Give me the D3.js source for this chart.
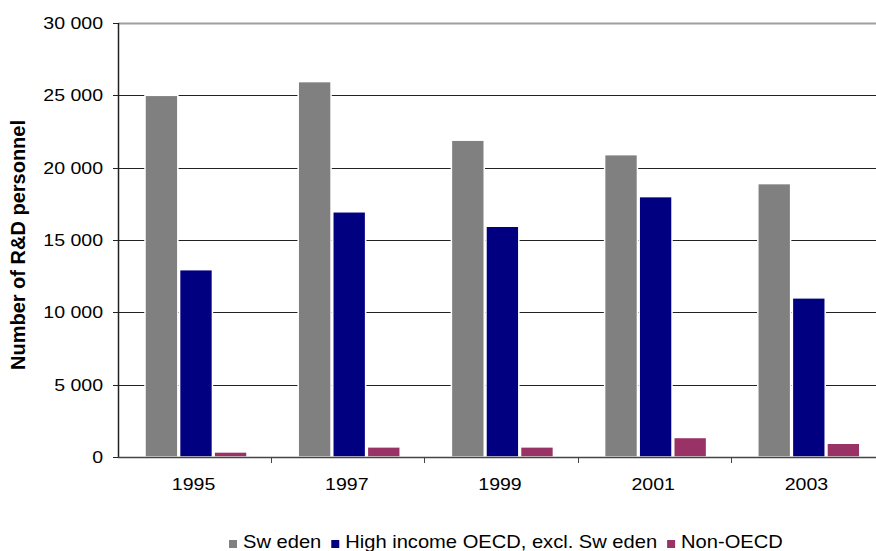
<!DOCTYPE html>
<html>
<head>
<meta charset="utf-8">
<script src="https://cdn.jsdelivr.net/npm/d3@7"></script>
<style>
  html, body { margin: 0; padding: 0; background: #fff; }
  svg { display: block; font-family: "Liberation Sans", Arial, sans-serif; }
</style>
</head>
<body>
<div class="container"></div>
<script>
// data
const years = ["1995", "1997", "1999", "2001", "2003"];
const seriesNames = ["Sw eden", "High income OECD, excl. Sw eden", "Non-OECD"];
const sweden = [25000, 25950, 21900, 20900, 18900];
const highIncome = [12950, 16950, 15950, 18000, 11000];
const nonOecd = [350, 700, 700, 1350, 950];
const yTicks = [0, 5000, 10000, 15000, 20000, 25000, 30000];

const colors = ["#808080", "#000080", "#993366"];
const values = [sweden, highIncome, nonOecd];

const width = 876, height = 551;
const plot = { left: 118, top: 23, bottom: 457, right: 884 };

const svg = d3.select(".container")
  .append("svg")
  .attr("width", width)
  .attr("height", height);

const y = d3.scaleLinear().domain([0, 30000]).range([plot.bottom, plot.top]);
const x0 = d3.scaleBand().domain(years).range([plot.left, plot.right]).padding(0);
const x1 = d3.scaleBand().domain(d3.range(3)).range([27, 129]).paddingInner(0.05);

const fmt = d3.formatLocale({ decimal: ".", thousands: " ", grouping: [3], currency: ["", ""] }).format(",");

// gridlines
svg.append("g")
  .selectAll("line")
  .data(yTicks.filter(d => d > 0))
  .join("line")
  .attr("x1", plot.left)
  .attr("x2", width)
  .attr("y1", d => Math.round(y(d)) + 0.5)
  .attr("y2", d => Math.round(y(d)) + 0.5)
  .attr("stroke", d => d === 30000 ? "#a0a0a0" : "#222")
  .attr("stroke-width", d => d === 30000 ? 2 : 1);

// bars
const group = svg.append("g")
  .selectAll("g")
  .data(years)
  .join("g")
  .attr("transform", d => `translate(${x0(d)},0)`);

group.selectAll("rect")
  .data((d, i) => values.map((v, k) => ({ k, v: v[i] })))
  .join("rect")
  .attr("x", d => x1(d.k))
  .attr("width", x1.bandwidth())
  .attr("y", d => y(d.v))
  .attr("height", d => y(0) - y(d.v))
  .attr("fill", d => colors[d.k])
  .attr("stroke", "#fff")
  .attr("stroke-width", 1.5);

// y axis
const yAxis = svg.append("g").attr("transform", `translate(${plot.left},0)`);
yAxis.append("line")
  .attr("x1", 0.5).attr("x2", 0.5)
  .attr("y1", plot.top).attr("y2", plot.bottom + 1)
  .attr("stroke", "#222").attr("stroke-width", 1.5);
yAxis.selectAll(".tick")
  .data(yTicks)
  .join("line")
  .attr("x1", -5).attr("x2", 0)
  .attr("y1", d => Math.round(y(d)) + 0.5)
  .attr("y2", d => Math.round(y(d)) + 0.5)
  .attr("stroke", "#222");
yAxis.selectAll("text")
  .data(yTicks)
  .join("text")
  .attr("transform", d => `translate(-15,${y(d)}) scale(1.15,1)`)
  .attr("dy", "0.35em")
  .attr("text-anchor", "end")
  .style("font-size", "17px")
  .attr("fill", "#000")
  .text(d => fmt(d));

// x axis
const xAxis = svg.append("g");
xAxis.append("line")
  .attr("x1", plot.left).attr("x2", width)
  .attr("y1", plot.bottom + 0.5).attr("y2", plot.bottom + 0.5)
  .attr("stroke", "#444").attr("stroke-width", 1.5);
xAxis.selectAll(".tick")
  .data(years.slice(1))
  .join("line")
  .attr("x1", d => Math.round(x0(d)) + 0.5)
  .attr("x2", d => Math.round(x0(d)) + 0.5)
  .attr("y1", plot.bottom).attr("y2", plot.bottom + 6)
  .attr("stroke", "#444");
xAxis.selectAll("text")
  .data(years)
  .join("text")
  .attr("transform", d => `translate(${x0(d) + x0.bandwidth() / 2 - 1},490) scale(1.15,1)`)
  .attr("text-anchor", "middle")
  .style("font-size", "17px")
  .text(d => d);

// y title
svg.append("text")
  .attr("transform", "translate(25,245) rotate(-90)")
  .attr("text-anchor", "middle")
  .style("font-size", "20px")
  .style("font-weight", "bold")
  .text("Number of R&D personnel");

// legend
const legend = svg.append("g").attr("transform", "translate(229,548)");
let lx = 0;
seriesNames.forEach((name, k) => {
  const item = legend.append("g").attr("transform", `translate(${lx},0)`);
  item.append("rect")
    .attr("x", 0).attr("y", -8)
    .attr("width", 8).attr("height", 8)
    .attr("fill", colors[k]);
  const t = item.append("text")
    .attr("transform", "translate(14,0) scale(1.15,1)")
    .style("font-size", "17.5px")
    .text(name);
  lx += 14 + t.node().getComputedTextLength() * 1.15 + 10;
});
</script>
</body>
</html>
